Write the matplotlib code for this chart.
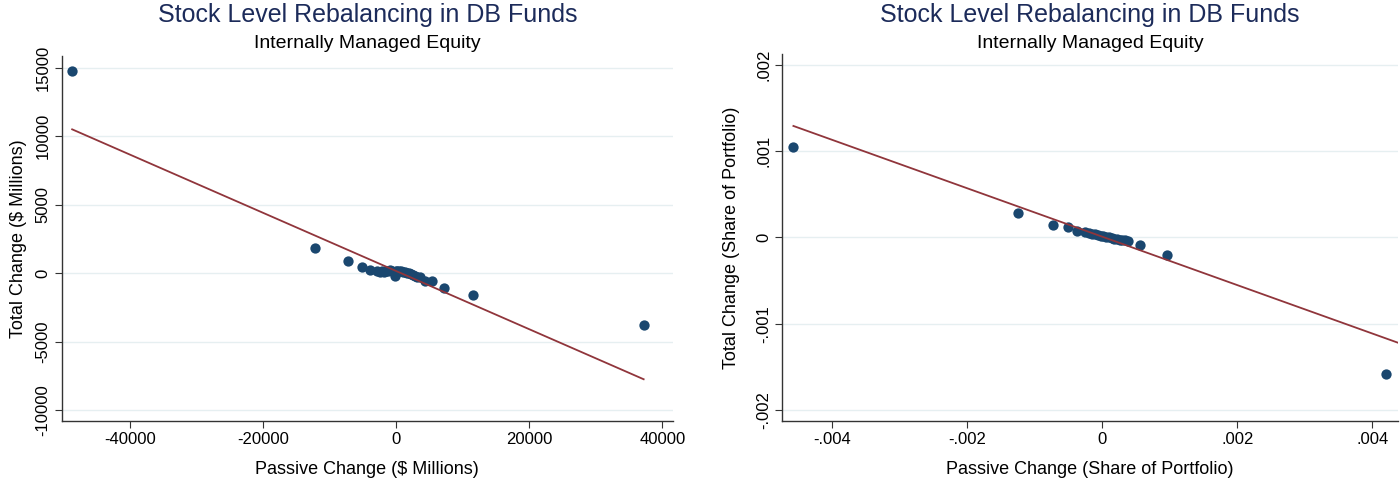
import numpy as np
import matplotlib.pyplot as plt

plt.rcParams['font.family'] = ['Liberation Sans', 'DejaVu Sans']

# left panel: dollar changes ($ millions)
usd_passive = [-48700, -12200, -7300, -5100, -3900, -2900, -2400,
               -2100, -1800, -1500, -1200, -900, -600, -300, -150, 0,
               200, 500, 800, 1100, 1400, 1700, 2000, 2300, 2600, 2900,
               3200, 3600, 4300, 5400, 7200, 11500, 37200]
usd_total = [14760, 1800, 850, 470, 230, 120, 60,
             150, 100, 180, 120, 200, 150, 100, -200, 150,
             180, 120, 150, 100, 50, 0, -30, -80, -150, -200,
             -280, -260, -560, -580, -1090, -1580, -3800]
usd_fit = (150.0, -0.2125)  # intercept, slope
usd_fit_end = 37200

# right panel: share of portfolio
shr_passive = [-0.004567, -0.001238, -0.000729, -0.000499, -0.000365,
               -0.000251, -0.00020, -0.00015, -0.00010, -0.00006,
               -0.00002, 0.00002, 0.00006, 0.00010, 0.00014, 0.00018,
               0.00022, 0.00026, 0.00030, 0.00034, 0.000389, 0.000562,
               0.000966, 0.0042]
shr_total = [0.001046, 0.000281, 0.000145, 0.000118, 0.000079,
             0.000064, 0.000055, 0.000045, 0.000040, 0.000030,
             0.000020, 0.000015, 0.000005, 0.000000, -0.000008, -0.000012,
             -0.000018, -0.000025, -0.000030, -0.000035, -0.000041, -0.000087,
             -0.000200, -0.00158]
shr_fit = (0.00001, -0.281)
shr_fit_end = 0.00437


def fmt_share(v):
    if abs(v) < 1e-12:
        return "0"
    return ("%.3f" % v).replace("0.", ".")


def panel(ax, xs, ys, fit, fit_end, xlim, ylim, xticks, yticks,
          xlabel, ylabel, fmt, ypad):
    ax.set_xlim(*xlim)
    ax.set_ylim(*ylim)
    for yt in yticks:
        ax.axhline(yt, color='#e6eff1', lw=1.0, zorder=0)
    ax.scatter(xs, ys, s=55, color='#1a476f', zorder=3, linewidths=0)
    lx = np.array([min(xs), fit_end])
    ax.plot(lx, fit[0] + fit[1] * lx, color='#90353b', lw=1.3, zorder=4)

    ax.set_xticks(xticks)
    ax.set_yticks(yticks)
    ax.set_xticklabels([fmt(v) for v in xticks], fontsize=12)
    ax.set_yticklabels([fmt(v) for v in yticks], fontsize=12,
                       rotation=90, va='center')
    ax.tick_params(direction='out', length=5, width=0.8, colors='#333333',
                   labelcolor='black', pad=3)
    for side in ['top', 'right']:
        ax.spines[side].set_visible(False)
    for side in ['left', 'bottom']:
        ax.spines[side].set_color('#333333')
        ax.spines[side].set_linewidth(1.0)
    ax.set_xlabel(xlabel, fontsize=13, labelpad=10)
    ax.set_ylabel(ylabel, fontsize=13, labelpad=ypad)


dpi = 100
fig = plt.figure(figsize=(1400 / dpi, 482 / dpi), dpi=dpi)

ax1 = fig.add_axes([0.0441, 0.1266, 0.4366, 0.7572])
panel(ax1, usd_passive, usd_total, usd_fit, usd_fit_end,
      (-50265, 41608), (-10803, 15855),
      [-40000, -20000, 0, 20000, 40000],
      [-10000, -5000, 0, 5000, 10000, 15000],
      "Passive Change ($ Millions)", "Total Change ($ Millions)",
      lambda v: "%d" % v, 6)

ax2 = fig.add_axes([0.5588, 0.1266, 0.4398, 0.7607])
panel(ax2, shr_passive, shr_total, shr_fit, shr_fit_end,
      (-0.004731, 0.00438), (-0.002128, 0.002124),
      [-0.004, -0.002, 0, 0.002, 0.004],
      [-0.002, -0.001, 0, 0.001, 0.002],
      "Passive Change (Share of Portfolio)", "Total Change (Share of Portfolio)",
      fmt_share, 12)

for ax in [ax1, ax2]:
    pos = ax.get_position()
    cx = (pos.x0 + pos.x1) / 2
    fig.text(cx, 1 - 15 / 482, "Stock Level Rebalancing in DB Funds",
             ha='center', va='center', fontsize=18, color='#1c2b5a')
    fig.text(cx, 1 - 43 / 482, "Internally Managed Equity",
             ha='center', va='center', fontsize=14, color='black')

fig.savefig("out.png", dpi=dpi)
